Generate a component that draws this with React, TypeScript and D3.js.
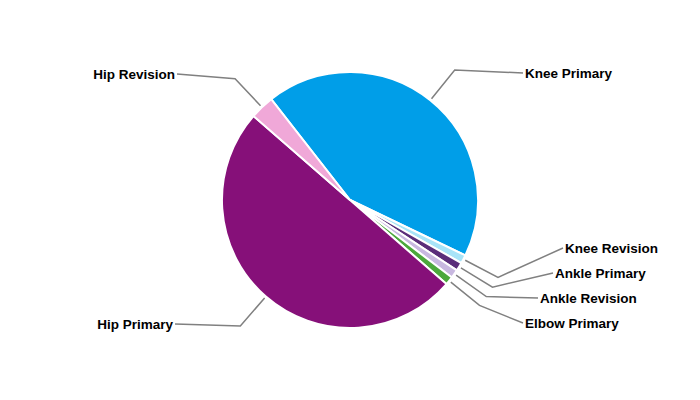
import React, { useEffect, useRef } from 'react';
import * as d3 from 'd3';

// slice names, clockwise from the top-left edge of Knee Primary
const categories = [
    'Knee Primary',
    'Knee Revision',
    'Ankle Primary',
    'Ankle Revision',
    'Elbow Primary',
    'Hip Primary',
    'Hip Revision',
];
// share of procedures (%)
const values = [42.7, 1.07, 1.07, 1.07, 1.07, 50.0, 3.05];
const colors = ['#009ee8', '#a8e4f8', '#5a2d7a', '#c8b8e0', '#4ca83c', '#861079', '#f0a8d8'];

// where each label's leader line ends (layout only)
const labelAnchors = [
    { x: 523, y: 73, side: 'right' },
    { x: 563, y: 248, side: 'right' },
    { x: 553, y: 273, side: 'right' },
    { x: 538, y: 298, side: 'right' },
    { x: 523, y: 323, side: 'right' },
    { x: 175, y: 324, side: 'left' },
    { x: 177, y: 74, side: 'left' },
];

const App: React.FC = () => {
    const svgRef = useRef<SVGSVGElement | null>(null);

    useEffect(() => {
        const svg = d3.select(svgRef.current);
        const width = 700;
        const height = 400;
        const cx = 350;
        const cy = 200;
        const radius = 128;

        svg.selectAll('*').remove();
        svg.append('rect').attr('width', width).attr('height', height).attr('fill', '#ffffff');

        const data = categories.map((name, i) => ({ name, value: values[i], color: colors[i], i }));

        const startAngle = (-38 * Math.PI) / 180;
        const pie = d3
            .pie<{ name: string; value: number; color: string; i: number }>()
            .value(d => d.value)
            .sort(null)
            .startAngle(startAngle)
            .endAngle(startAngle + 2 * Math.PI);

        const arcs = pie(data);
        const arc = d3
            .arc<d3.PieArcDatum<{ name: string; value: number; color: string; i: number }>>()
            .innerRadius(0)
            .outerRadius(radius);

        const g = svg.append('g').attr('transform', `translate(${cx},${cy})`);

        g.selectAll('path')
            .data(arcs)
            .join('path')
            .attr('d', arc)
            .attr('fill', d => d.data.color)
            .attr('stroke', '#ffffff')
            .attr('stroke-width', 2)
            .attr('stroke-linejoin', 'round');

        // leader lines
        const polar = (a: number, r: number): [number, number] => [
            cx + r * Math.sin(a),
            cy - r * Math.cos(a),
        ];

        arcs.forEach((d, k) => {
            const mid = (d.startAngle + d.endAngle) / 2;
            const p0 = polar(mid, 130);
            const p1 = polar(mid, 167);
            const anchor = labelAnchors[k];
            svg.append('polyline')
                .attr('points', [p0, p1, [anchor.x, anchor.y]].map(p => p.join(',')).join(' '))
                .attr('fill', 'none')
                .attr('stroke', '#808080')
                .attr('stroke-width', 1.5);

            svg.append('text')
                .attr('x', anchor.side === 'right' ? anchor.x + 2 : anchor.x - 2)
                .attr('y', anchor.y)
                .attr('dy', '0.35em')
                .attr('text-anchor', anchor.side === 'right' ? 'start' : 'end')
                .attr('font-family', 'Liberation Sans, Arial, sans-serif')
                .attr('font-weight', 'bold')
                .attr('font-size', 13.5)
                .attr('fill', '#000000')
                .text(d.data.name);
        });
    }, []);

    return (
        <svg
            ref={svgRef}
            width={700}
            height={400}
            style={{ position: 'absolute', left: 0, top: 0 }}
        ></svg>
    );
};

export default App;
